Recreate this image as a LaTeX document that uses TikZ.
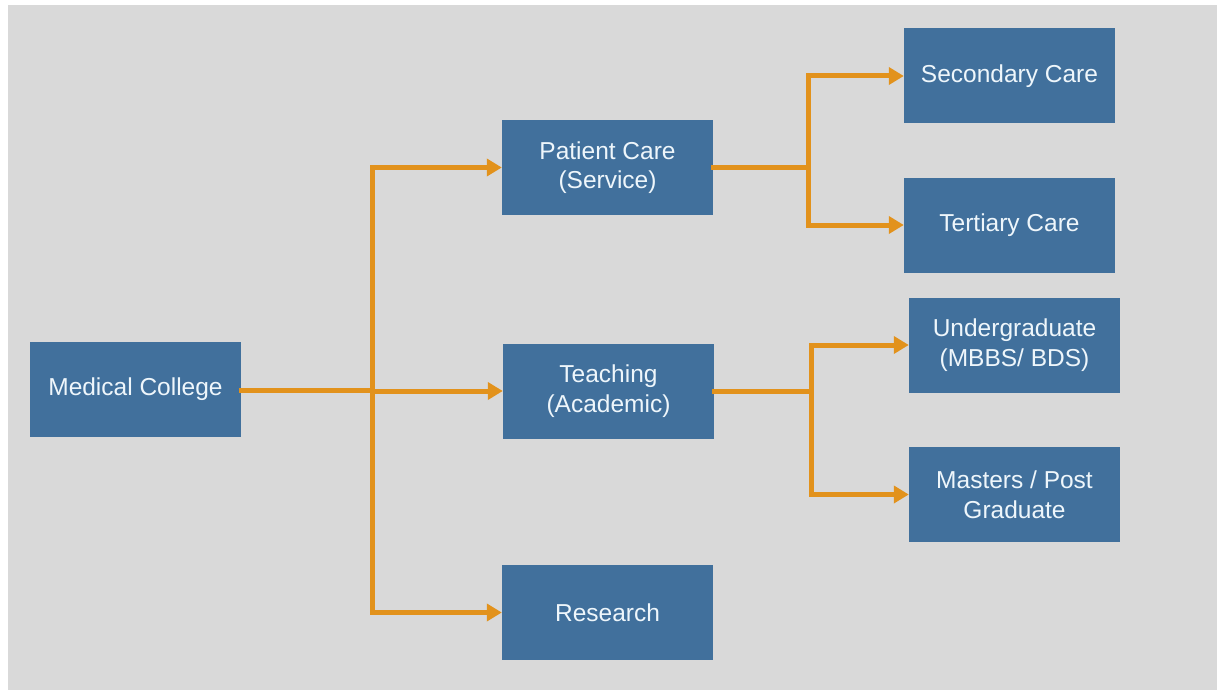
\documentclass[tikz,border=0pt]{standalone}
\usepackage{fontspec}
\setmainfont{Liberation Sans}
\usepackage{tikz}
\usetikzlibrary{arrows.meta}
\definecolor{bggray}{HTML}{D9D9D9}
\definecolor{boxblue}{HTML}{41709C}
\definecolor{flowor}{HTML}{E2921C}
\definecolor{txtwhite}{HTML}{EEF6FB}

\begin{document}
\begin{tikzpicture}[x=1pt, y=-1pt,
    unit/.style={fill=boxblue, text=txtwhite, minimum width=211pt, minimum height=95pt,
      inner sep=0pt, align=center, font=\fontsize{24.5}{29.5}\selectfont},
    link/.style={draw=flowor, line width=5pt, line cap=rect},
    linkarr/.style={draw=flowor, line width=5pt, -{Triangle[length=15pt,width=17pt]}}]
   \useasboundingbox (0,0) rectangle (1217,690);
   \fill[bggray] (8,5) rectangle (1217,690);
   % boxes
   \node[unit] (college) at (135.5,389.5) {Medical College};
   \node[unit] (patient) at (607.5,167.5) {Patient Care\\(Service)};
   \node[unit] (teach) at (608.5,391) {Teaching\\(Academic)};
   \node[unit] (research) at (607.5,612.5) {Research};
   \node[unit] (second) at (1009.5,76) {Secondary Care};
   \node[unit] (third) at (1009.5,225) {Tertiary Care};
   \node[unit] (under) at (1014.5,345) {Undergraduate\\(MBBS/ BDS)};
   \node[unit] (masters) at (1014.5,494.5) {Masters / Post\\Graduate};
   % junctions
   \coordinate (jcol) at (372,390);
   \coordinate (jpat) at (808,167.5);
   \coordinate (jtea) at (811,391);
   % college to its three branches
   \draw[link] (college.east |- jcol) -- (jcol);
   \draw[link] (jcol |- patient) -- (jcol |- research);
   \draw[linkarr] (jcol |- patient) -- (patient.west);
   \draw[linkarr] (jcol |- teach) -- (teach.west);
   \draw[linkarr] (jcol |- research) -- (research.west);
   % patient care
   \draw[link] (patient.east) -- (jpat);
   \draw[link] (jpat |- second) -- (jpat |- third);
   \draw[linkarr] (jpat |- second) -- (second.west);
   \draw[linkarr] (jpat |- third) -- (third.west);
   % teaching
   \draw[link] (teach.east) -- (jtea);
   \draw[link] (jtea |- under) -- (jtea |- masters);
   \draw[linkarr] (jtea |- under) -- (under.west);
   \draw[linkarr] (jtea |- masters) -- (masters.west);
\end{tikzpicture}
\end{document}
